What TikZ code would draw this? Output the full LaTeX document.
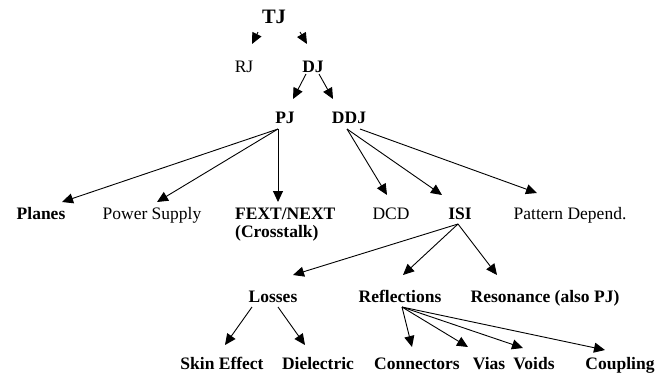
\documentclass[tikz,border=0pt]{standalone}
\usepackage{fontspec}
\setmainfont{Liberation Serif}
\usetikzlibrary{arrows.meta,calc}
\tikzset{
  lbl/.style={inner sep=0pt, anchor=base, font=\fontsize{17.5}{18}\selectfont},
  blbl/.style={lbl, font=\fontsize{17.5}{18}\selectfont\bfseries},
  arr/.style={draw=black, line width=0.9pt, -{Triangle[length=11pt,width=10pt]}}
}
\begin{document}
\begin{tikzpicture}[x=1pt,y=-1pt]
\useasboundingbox (0,0) rectangle (663,373);
% row 1-3
\node[blbl, font=\fontsize{20.5}{22}\selectfont\bfseries] (TJ) at (274,23) {TJ};
\node[lbl] (RJ) at (244,72) {RJ};
\node[blbl] (DJ) at (313,72) {DJ};
\node[blbl] (PJ) at (285,123) {PJ};
\node[blbl] (DDJ) at (349,123) {DDJ};
% row 4
\node[blbl] (Planes) at (41,219) {Planes};
\node[lbl] (Power) at (152,219) {Power Supply};
\node[blbl, anchor=base west, align=left, font=\fontsize{17.5}{18}\selectfont\bfseries] (FEXT) at (235,237) {FEXT/NEXT\\(Crosstalk)};
\node[lbl] (DCD) at (391,219) {DCD};
\node[blbl] (ISI) at (460,219) {ISI};
\node[lbl] (Pattern) at (570,219) {Pattern Depend.};
% row 5
\node[blbl] (Losses) at (273,302) {Losses};
\node[blbl] (Refl) at (400,302) {Reflections};
\node[blbl] (Reso) at (545,302) {Resonance (also PJ)};
% row 6
\node[blbl] (Skin) at (222,369) {Skin Effect};
\node[blbl] (Diel) at (318,369) {Dielectric};
\node[blbl] (Conn) at (417,369) {Connectors};
\node[blbl] (Vias) at (489,369) {Vias};
\node[blbl] (Voids) at (534,369) {Voids};
\node[blbl] (Coup) at (620,369) {Coupling};
% arrows
\draw[arr] ($(TJ.base)+(-16,9)$) -- ($(RJ.base)+(8,-28)$);
\draw[arr] ($(TJ.base)+(26,9)$) -- ($(DJ.base)+(-6,-28)$);
\draw[arr] ($(DJ.base)+(-7,2)$) -- ($(PJ.base)+(8,-24)$);
\draw[arr] ($(DJ.base)+(6,2)$) -- ($(DDJ.base)+(-16,-24)$);
\coordinate (pjo) at ($(PJ.base)+(-7,6)$);
\draw[arr] (pjo) -- ($(Planes.base)+(21,-17)$);
\draw[arr] (pjo) -- ($(Power.base)+(5,-17)$);
\draw[arr] (pjo) -- ($(FEXT.base west)+(43,-35)$);
\coordinate (ddjo) at ($(DDJ.base)+(-2,6)$);
\draw[arr] (ddjo) -- ($(DCD.base)+(-4,-24)$);
\draw[arr] (ddjo) -- ($(ISI.base)+(-18,-24)$);
\draw[arr] ($(DDJ.base)+(11,6)$) -- ($(Pattern.base)+(-33,-26)$);
\coordinate (isio) at ($(ISI.base)+(-2,5)$);
\draw[arr] (isio) -- ($(Losses.base)+(20,-27)$);
\draw[arr] (isio) -- ($(Refl.base)+(3,-27)$);
\draw[arr] (isio) -- ($(Reso.base)+(-48,-27)$);
\draw[arr] ($(Losses.base)+(-21,5)$) -- ($(Skin.base)+(3,-24)$);
\draw[arr] ($(Losses.base)+(5,5)$) -- ($(Diel.base)+(-13,-24)$);
\coordinate (refo) at ($(Refl.base)+(2,5)$);
\draw[arr] (refo) -- ($(Conn.base)+(-5,-22)$);
\draw[arr] (refo) -- ($(Vias.base)+(-21,-22)$);
\draw[arr] (refo) -- ($(Voids.base)+(-11,-21)$);
\draw[arr] (refo) -- ($(Coup.base)+(-15,-19)$);
\end{tikzpicture}
\end{document}
